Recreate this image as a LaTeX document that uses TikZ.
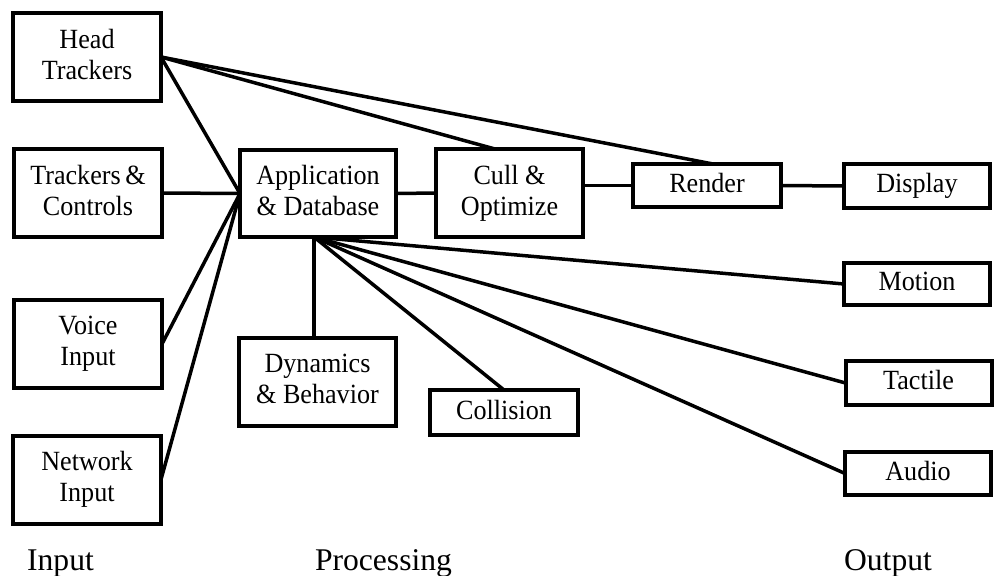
\documentclass[tikz,border=0pt]{standalone}
\usepackage{fontspec}
\setmainfont{Liberation Serif}
% slightly narrowed serif for the box labels
\newfontfamily\boxfont{Liberation Serif}[FakeStretch=0.94]
\usetikzlibrary{calc}
% extra depth so every box's text sits as if it had descenders
\newcommand{\lowstrut}{\vrule width 0pt height 0pt depth 0.2em\relax}
\begin{document}
\begin{tikzpicture}[x=1pt,y=-1pt,
  box/.style={draw, line width=4pt, inner sep=0pt, outer sep=0pt, align=center,
    font=\boxfont\fontsize{27.8}{31}\selectfont, execute at end node=\lowstrut},
  bigbox/.style={box, minimum width=148pt, minimum height=88pt},
  smallbox/.style={box, minimum width=146pt, minimum height=43pt},
  lab/.style={font=\fontsize{31.6}{36}\selectfont, anchor=base, inner sep=0pt},
  link/.style={line width=3.5pt}]
\useasboundingbox (0,0) rectangle (997,576);

% input devices
\node[bigbox] (ht)    at (87,57)    {Head\\Trackers};
\node[bigbox] (tc)    at (88,193)   {Trackers\,\&\\Controls};
\node[bigbox] (voice) at (88,344)   {Voice\\Input};
\node[bigbox] (net)   at (87,479.5) {Network\\Input};

% processing stages
\node[bigbox, minimum width=156pt, minimum height=87pt] (app) at (318,193.5) {Application\\\& Database};
\node[bigbox, minimum width=147pt] (cull) at (509.5,193) {Cull \&\\Optimize};
\node[smallbox, minimum width=148pt] (render) at (707,185.5) {Render};
\node[bigbox, minimum width=157pt] (dyn) at (317.5,382) {Dynamics\\\& Behavior};
\node[smallbox, minimum width=148pt, minimum height=45pt] (coll) at (504,412.5) {Collision};

% output devices
\node[smallbox, minimum height=44pt] (display) at (917,186)   {Display};
\node[smallbox, minimum height=42pt] (motion)  at (917,284)   {Motion};
\node[smallbox, minimum height=44pt] (tactile) at (918.5,383) {Tactile};
\node[smallbox] (audio) at (918,473.5) {Audio};

% column captions
\node[lab] (inlab)   at (60.5,570)  {Input};
\node[lab] (proclab) at (383.5,570) {Processing};
\node[lab] (outlab)  at (888,570)   {Output};

% inputs feed the application
\draw[link] (ht.east) -- (app.west);
\draw[link] (tc.east) -- (app.west);
\draw[link] (voice.east) -- (app.west);
\draw[link] (net.east) -- (app.west);

% head tracking also feeds culling and rendering
\draw[link] (ht.east) -- ([xshift=-14.5pt]cull.north);
\draw[link] (ht.east) -- ([xshift=6pt]render.north);

% graphics pipeline
\draw[link] (app.east) -- (cull.west);
\draw[link] (cull.east |- render.west) -- (render.west);
\draw[link] (render.east) -- (display.west);

% fan out from the bottom of the application box
\coordinate (fan) at ([xshift=-4pt]app.south);
\draw[link] (fan) -- (fan |- dyn.north);
\draw[link] (fan) -- (coll.north);
\draw[link] (fan) -- (motion.west);
\draw[link] (fan) -- (tactile.west);
\draw[link] (fan) -- (audio.west);
\end{tikzpicture}
\end{document}
